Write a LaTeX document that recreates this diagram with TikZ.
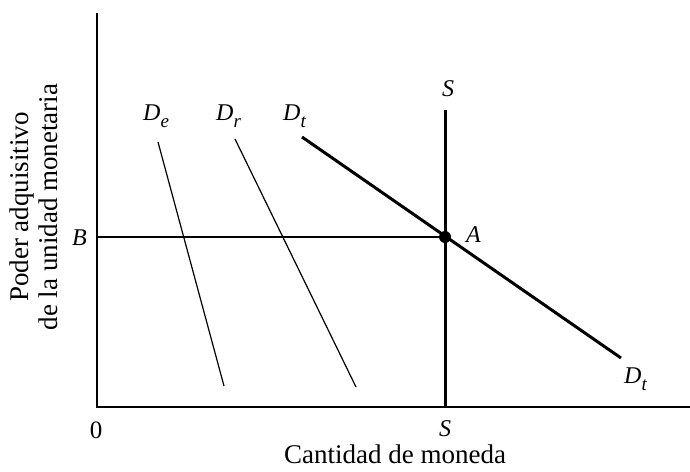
\documentclass[tikz,border=0pt]{standalone}
\usepackage{fontspec}
\setmainfont{Liberation Serif}
\newcommand{\lblsub}[1]{\raisebox{-7pt}{\fontsize{19}{19}\selectfont\itshape #1}}
\begin{document}
\begin{tikzpicture}[x=1pt,y=-1pt,
  thinline/.style={line width=1.2pt},
  thickline/.style={line width=3pt},
  lbl/.style={font=\fontsize{27}{29}\selectfont, inner sep=0pt},
  mlbl/.style={font=\fontsize{24}{26}\selectfont\itshape, inner sep=0pt, anchor=base west},
  dotpt/.style={circle, fill=black, inner sep=0pt, minimum size=12pt}]
\useasboundingbox (0,0) rectangle (690,471);
% axes
\coordinate (O) at (97,407);
\coordinate (Ytop) at (97,13);
\coordinate (Xend) at (690,407);
\draw[thinline] (Ytop) -- (O) -- (Xend);
% supply
\coordinate (Stop) at (445,110);
\coordinate (Sbot) at (445,407);
\draw[thickline] (Stop) -- (Sbot);
% demand curves
\coordinate (De1) at (158,142);
\coordinate (De2) at (224,386);
\draw[thinline] (De1) -- (De2);
\coordinate (Dr1) at (235,139);
\coordinate (Dr2) at (356,387);
\draw[thinline] (Dr1) -- (Dr2);
\coordinate (Dt1) at (302,137);
\coordinate (Dt2) at (621,358);
\draw[thickline] (Dt1) -- (Dt2);
% equilibrium
\node[dotpt] (A) at (445,237) {};
\coordinate (Bpt) at (97,237);
\draw[thinline] (Bpt) -- (A.center);
% labels
\node[mlbl] (lDe) at (143,120) {D\lblsub{e}};
\node[mlbl] (lDr) at (216,120) {D\lblsub{r}};
\node[mlbl] (lDt) at (283,120) {D\lblsub{t}};
\node[mlbl] (lDt2) at (624,383) {D\lblsub{t}};
\node[mlbl] (lStop) at (442,96) {S};
\node[mlbl] (lSbot) at (439,436) {S};
\node[mlbl] (lA) at (466,242) {A};
\node[mlbl] (lB) at (72,245) {B};
\node[lbl, font=\fontsize{25}{27}\selectfont] (l0) at (96,430) {0};
\node[lbl, anchor=base] (xlab) at (395,463) {Cantidad de moneda};
\node[lbl, rotate=90, align=center] (ylab) at (34,207) {Poder adquisitivo\\de la unidad monetaria};
\end{tikzpicture}
\end{document}
